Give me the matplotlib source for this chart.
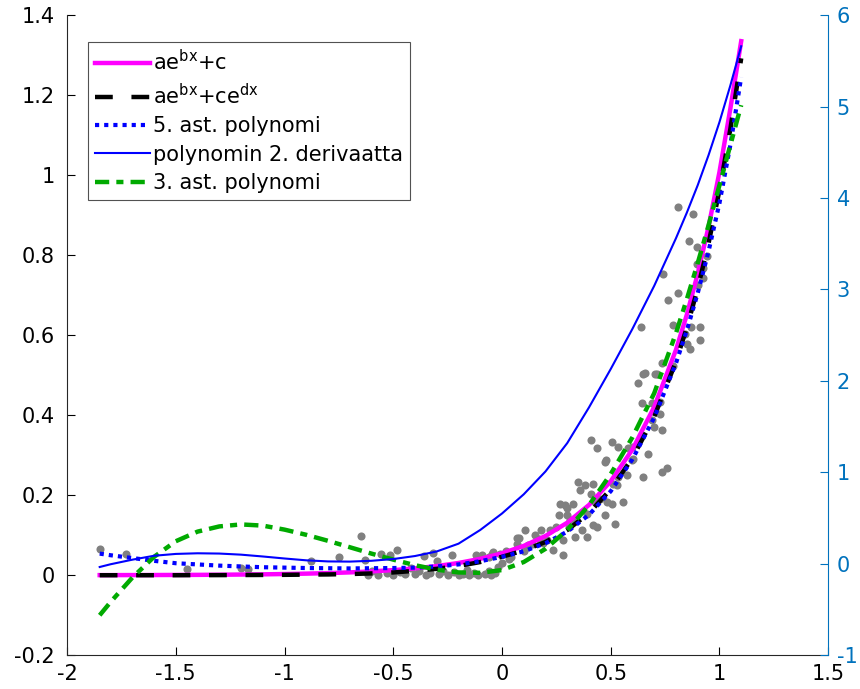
import matplotlib
matplotlib.use("Agg")
import matplotlib.pyplot as plt

# ---- data ----
x_data = [-1.85, -1.73, -1.45, -1.20, -1.17, -0.88, -0.75, -0.65, -0.63, -0.615, -0.60, -0.57,
          -0.555, -0.515, -0.485, -0.53, -0.50, -0.47, -0.445, -0.42, -0.40, -0.38, -0.36, -0.35,
          -0.33, -0.315, -0.30, -0.29, -0.27, -0.25, -0.23, -0.22, -0.20, -0.18, -0.16, -0.15,
          -0.13, -0.12, -0.11, -0.09, -0.08, -0.06, -0.05, -0.045, -0.04, -0.03, -0.01, -0.06,
          -0.02, 0.00, 0.02, 0.04, 0.067, 0.067, 0.08, 0.10, 0.106, 0.12, 0.14, 0.15, 0.18, 0.205,
          0.22, 0.236, 0.25, 0.26, 0.267, 0.28, 0.28, 0.29, 0.297, 0.297, 0.313, 0.328, 0.336,
          0.35, 0.36, 0.366, 0.38, 0.389, 0.389, 0.41, 0.41, 0.42, 0.42, 0.428, 0.435, 0.435,
          0.474, 0.474, 0.48, 0.481, 0.504, 0.504, 0.512, 0.52, 0.527, 0.535, 0.535, 0.558, 0.573,
          0.58, 0.596, 0.604, 0.627, 0.638, 0.642, 0.65, 0.65, 0.657, 0.673, 0.688, 0.69, 0.703,
          0.711, 0.726, 0.726, 0.734, 0.734, 0.734, 0.739, 0.757, 0.765, 0.785, 0.788, 0.811,
          0.811, 0.841, 0.849, 0.861, 0.864, 0.868, 0.88, 0.895, 0.895, 0.903, 0.91, 0.91, 0.925,
          0.925, 0.944, 0.03, 0.12, 0.17, 0.19, 0.31, 0.33, 0.45, 0.60, 0.70]
y_data = [0.065, 0.052, 0.015, 0.017, 0.015, 0.036, 0.046, 0.098, 0.037, 0.0, 0.01, 0.0,
          0.052, 0.05, 0.064, 0.005, 0.0, 0.008, 0.004, 0.017, 0.002, 0.01, 0.048, 0.0,
          0.006, 0.055, 0.035, 0.002, 0.01, 0.0, 0.05, 0.008, 0.0, 0.004, 0.012, 0.0,
          0.006, 0.05, 0.0, 0.05, 0.003, 0.01, 0.0, 0.054, 0.058, 0.005, 0.054, 0.045,
          0.02, 0.03, 0.06, 0.045, 0.079, 0.092, 0.092, 0.06, 0.1125, 0.075, 0.079, 0.1, 0.1125, 0.0875,
          0.1125, 0.0625, 0.12, 0.15, 0.179, 0.0875, 0.05, 0.175, 0.167, 0.15, 0.1375, 0.179, 0.096,
          0.233, 0.2125, 0.1125, 0.225, 0.154, 0.096, 0.204, 0.3375, 0.229, 0.125, 0.183, 0.317, 0.121,
          0.283, 0.15, 0.2875, 0.183, 0.333, 0.179, 0.229, 0.129, 0.225, 0.246, 0.321, 0.183, 0.25,
          0.317, 0.2875, 0.29, 0.481, 0.621, 0.431, 0.504, 0.246, 0.506, 0.304, 0.3875, 0.43, 0.504,
          0.504, 0.433, 0.404, 0.3625, 0.531, 0.258, 0.752, 0.267, 0.6875, 0.625, 0.5225, 0.921,
          0.706, 0.604, 0.579, 0.835, 0.565, 0.621, 0.902, 0.821, 0.779, 0.725, 0.621, 0.5875, 0.767,
          0.742, 0.7975, 0.04, 0.07, 0.09, 0.08, 0.12, 0.14, 0.19, 0.32, 0.37]

x_fit = [-1.85, -1.8, -1.7, -1.6, -1.5, -1.4, -1.3, -1.2, -1.1, -1.0, -0.9, -0.8, -0.7, -0.6,
         -0.5, -0.4, -0.3, -0.2, -0.1, 0.0, 0.1, 0.2, 0.3, 0.4, 0.5, 0.6, 0.7, 0.8, 0.85, 0.9,
         0.95, 1.0, 1.05, 1.1]
y_exp1 = [0.0003, 0.0003, 0.0004, 0.0005, 0.0007, 0.0009, 0.0012, 0.0017, 0.0022, 0.0030, 0.0040,
          0.0053, 0.0071, 0.0096, 0.0128, 0.0171, 0.0229, 0.0306, 0.0410, 0.0548, 0.0733, 0.0981,
          0.1313, 0.1756, 0.2350, 0.3145, 0.4207, 0.5633, 0.6512, 0.7535, 0.8713, 1.0078, 1.166,
          1.335]
y_exp2 = [0.0, 0.0, 0.0, 0.0, 0.0, 0.0002, 0.0003, 0.0005, 0.0007, 0.001, 0.0015, 0.002, 0.003,
          0.0045, 0.007, 0.011, 0.016, 0.023, 0.033, 0.046, 0.062, 0.083, 0.113, 0.155, 0.215,
          0.293, 0.396, 0.534, 0.619, 0.717, 0.830, 0.962, 1.115, 1.292]
y_poly5 = [0.054, 0.050, 0.043, 0.036, 0.030, 0.027, 0.024, 0.022, 0.020, 0.019, 0.018, 0.0175,
           0.017, 0.0175, 0.018, 0.019, 0.022, 0.027, 0.035, 0.046, 0.060, 0.080, 0.109, 0.151,
           0.210, 0.290, 0.394, 0.530, 0.612, 0.705, 0.810, 0.930, 1.075, 1.245]
y_deriv2 = [-0.035, -0.005, 0.045, 0.088, 0.108, 0.115, 0.112, 0.100, 0.080, 0.058, 0.038, 0.026,
            0.024, 0.033, 0.052, 0.085, 0.135, 0.22, 0.37, 0.55, 0.76, 1.01, 1.32, 1.71, 2.13,
            2.57, 3.04, 3.56, 3.84, 4.14, 4.47, 4.83, 5.23, 5.66]
y_poly3 = [-0.100, -0.067, -0.006, 0.046, 0.085, 0.109, 0.122, 0.127, 0.124, 0.114, 0.101, 0.086,
           0.070, 0.054, 0.039, 0.025, 0.014, 0.007, 0.006, 0.013, 0.033, 0.066, 0.113, 0.175,
           0.253, 0.345, 0.455, 0.605, 0.69, 0.78, 0.875, 0.975, 1.075, 1.175]

labels = [r'ae$^{\mathregular{bx}}$+c', r'ae$^{\mathregular{bx}}$+ce$^{\mathregular{dx}}$',
          '5. ast. polynomi', 'polynomin 2. derivaatta', '3. ast. polynomi']

right_color = '#0072BD'
fs = 15

fig = plt.figure(figsize=(8.6, 6.89), dpi=100)
ax = fig.add_axes([0.078, 0.049, 0.885, 0.929])
ax2 = ax.twinx()

ax.scatter(x_data, y_data, s=34, color='#808080', linewidths=0, zorder=1)
l1, = ax.plot(x_fit, y_exp1, color='#FF00FF', lw=3.2, zorder=3)
l2, = ax.plot(x_fit, y_exp2, color='black', lw=3.2, dashes=(4, 4.2), zorder=4)
l3, = ax.plot(x_fit, y_poly5, color='#0000FF', lw=3, dashes=(1, 1.2), zorder=5)
l5, = ax.plot(x_fit, y_poly3, color='#00AA00', lw=3.2, dashes=(3.2, 1.6, 1.6, 1.6), zorder=6)
l4, = ax2.plot(x_fit, y_deriv2, color='#0000FF', lw=1.5)

ax.set_xlim(-2, 1.5)
ax.set_ylim(-0.2, 1.4)
ax2.set_ylim(-1, 6)
ax.set_xticks([-2, -1.5, -1, -0.5, 0, 0.5, 1, 1.5])
ax.set_xticklabels(['-2', '-1.5', '-1', '-0.5', '0', '0.5', '1', '1.5'])
ax.set_yticks([-0.2, 0, 0.2, 0.4, 0.6, 0.8, 1, 1.2, 1.4])
ax.set_yticklabels(['-0.2', '0', '0.2', '0.4', '0.6', '0.8', '1', '1.2', '1.4'])
ax2.set_yticks([-1, 0, 1, 2, 3, 4, 5, 6])
ax2.set_yticklabels(['-1', '0', '1', '2', '3', '4', '5', '6'])

for a in (ax, ax2):
    a.spines['top'].set_visible(False)
ax.spines['right'].set_visible(False)
ax2.spines['left'].set_visible(False)
ax2.spines['bottom'].set_visible(False)
ax2.spines['right'].set_color(right_color)
ax.tick_params(axis='both', direction='in', length=6, labelsize=fs, colors='black')
ax.tick_params(axis='y', pad=9)
ax.tick_params(axis='x', pad=6)
ax2.tick_params(axis='y', direction='in', length=6, labelsize=fs, colors=right_color, pad=6)
ax.spines['left'].set_color('#262626')
ax.spines['bottom'].set_color('#262626')

leg = ax2.legend([l1, l2, l3, l4, l5], labels, loc='upper left',
                 bbox_to_anchor=(0.0276, 0.958), fontsize=fs, frameon=True, fancybox=False,
                 handlelength=2.6, handletextpad=0.15, borderpad=0.35, labelspacing=0.4,
                 borderaxespad=0)
leg.get_frame().set_edgecolor('#262626')
leg.get_frame().set_linewidth(0.8)

fig.savefig('out.png', dpi=100)
